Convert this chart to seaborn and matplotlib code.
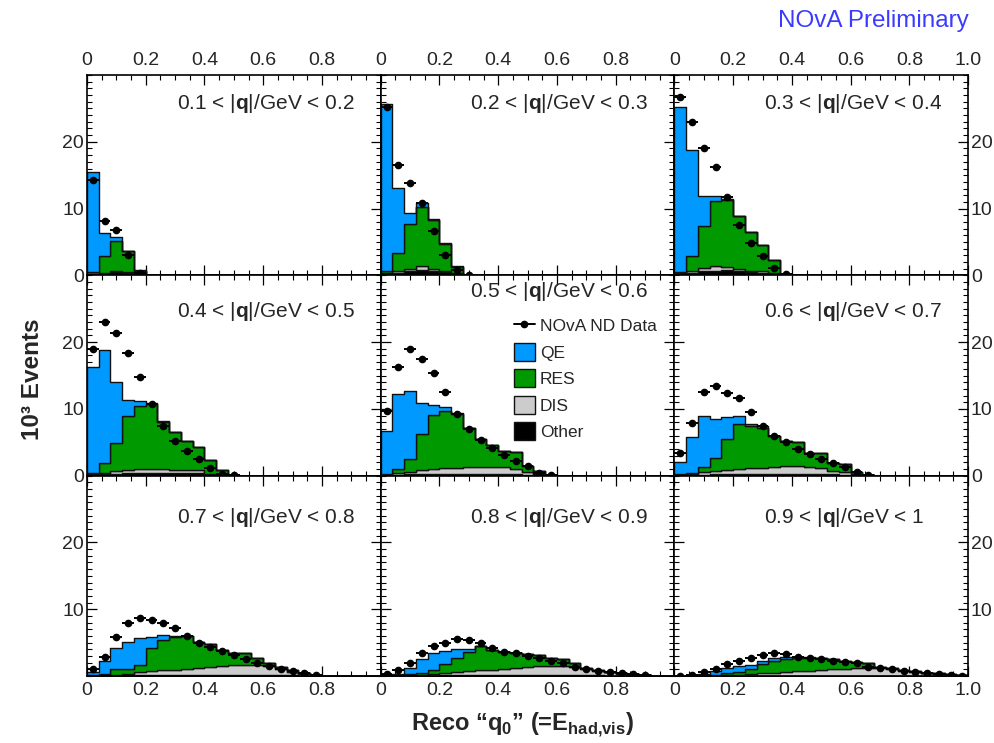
import numpy as np
import pandas as pd
import matplotlib
matplotlib.use("Agg")
import matplotlib.pyplot as plt
from matplotlib.lines import Line2D
from matplotlib.patches import Patch
from matplotlib.ticker import MultipleLocator, FixedLocator, FuncFormatter
import seaborn as sns

sns.set_theme(style="ticks")
plt.rcParams["font.family"] = ["Liberation Sans", "DejaVu Sans"]
plt.rcParams["mathtext.fontset"] = "custom"
plt.rcParams["mathtext.rm"] = "Liberation Sans"
plt.rcParams["mathtext.bf"] = "Liberation Sans:bold"

#%% Data (10^3 events per 0.04 bin of reco q0, one list per |q| slice)

q_lo = ["0.1", "0.2", "0.3", "0.4", "0.5", "0.6", "0.7", "0.8", "0.9"]
q_hi = ["0.2", "0.3", "0.4", "0.5", "0.6", "0.7", "0.8", "0.9", "1"]

other = [
    [0.15, 0.25, 0.55, 0.4, 0.2],
    [0.2, 0.35, 0.6, 0.75, 0.6, 0.5, 0.2],
    [0.2, 0.3, 0.6, 0.7, 0.75, 0.6, 0.5, 0.35, 0.2, 0.05],
    [0.2, 0.2, 0.3, 0.4, 0.4, 0.45, 0.45, 0.4, 0.4, 0.4, 0.15, 0.1],
    [0.1, 0.15, 0.2, 0.25, 0.25, 0.3, 0.3, 0.3, 0.3, 0.3, 0.3, 0.25, 0.15, 0.1],
    [0.05, 0.1, 0.15, 0.2, 0.25, 0.25, 0.3, 0.3, 0.3, 0.3, 0.3, 0.3, 0.25, 0.2, 0.15, 0.1, 0.05],
    [0.02, 0.05, 0.05, 0.1, 0.1, 0.15, 0.15, 0.2, 0.2, 0.2, 0.2, 0.2, 0.2, 0.2, 0.2, 0.15, 0.1, 0.1, 0.05, 0.02],
    [0.0, 0.02, 0.02, 0.05, 0.05, 0.1, 0.1, 0.1, 0.1, 0.15, 0.15, 0.15, 0.15, 0.15, 0.15, 0.15, 0.15, 0.1, 0.1, 0.05, 0.05, 0.02, 0.02],
    [0.0, 0.0, 0.01, 0.02, 0.02, 0.03, 0.05, 0.05, 0.05, 0.05, 0.05, 0.05, 0.05, 0.05, 0.05, 0.05, 0.05, 0.05, 0.05, 0.03, 0.03, 0.02, 0.02, 0.01, 0.01],
]

dis = [
    [0.1, 0.1, 0.15, 0.1, 0.05],
    [0.15, 0.25, 0.4, 0.65, 0.3, 0.1, 0.1],
    [0.15, 0.35, 0.55, 0.65, 0.5, 0.3, 0.2, 0.25, 0.1, 0.05],
    [0.1, 0.2, 0.45, 0.5, 0.6, 0.6, 0.55, 0.5, 0.45, 0.4, 0.15, 0.05],
    [0.05, 0.2, 0.35, 0.6, 0.8, 0.85, 0.9, 0.95, 1.0, 1.0, 0.95, 0.75, 0.35, 0.2],
    [0.05, 0.1, 0.35, 0.55, 0.65, 0.75, 0.8, 0.85, 1.0, 1.1, 1.2, 0.95, 0.85, 0.55, 0.35, 0.15, 0.05],
    [0.03, 0.05, 0.15, 0.25, 0.45, 0.6, 0.7, 0.75, 0.85, 1.05, 1.2, 1.3, 1.4, 1.45, 1.4, 1.3, 0.9, 0.5, 0.25, 0.08],
    [0.02, 0.03, 0.08, 0.15, 0.3, 0.4, 0.5, 0.65, 0.75, 0.8, 0.9, 1.0, 1.15, 1.3, 1.35, 1.35, 1.2, 0.95, 0.7, 0.5, 0.3, 0.18, 0.08],
    [0.0, 0.01, 0.04, 0.08, 0.13, 0.17, 0.25, 0.35, 0.45, 0.55, 0.65, 0.75, 0.85, 0.95, 1.05, 1.1, 1.2, 1.2, 1.0, 0.77, 0.62, 0.43, 0.33, 0.19, 0.11],
]

res = [
    [0.25, 2.55, 4.5, 3.1, 0.45],
    [0.25, 2.8, 6.7, 8.8, 7.4, 4.15, 1.0],
    [0.2, 2.25, 6.25, 9.75, 10.05, 7.95, 5.8, 3.9, 1.95, 0.08],
    [0.1, 1.5, 4.15, 8.0, 9.5, 9.75, 7.1, 5.6, 4.3, 3.5, 2.1, 0.65],
    [0.05, 0.6, 2.0, 5.35, 8.0, 8.55, 8.1, 5.85, 4.2, 3.3, 2.45, 2.6, 1.0, 0.45],
    [0.1, 0.25, 0.85, 1.95, 4.55, 6.7, 6.3, 6.05, 4.7, 3.85, 3.6, 2.1, 2.25, 1.15, 1.25, 0.35, 0.05],
    [0.1, 0.2, 0.8, 0.7, 1.15, 3.45, 4.55, 4.85, 5.0, 3.8, 3.4, 2.4, 1.8, 1.75, 1.15, 0.55, 0.4, 0.3, 0.1, 0.05],
    [0.03, 0.05, 0.2, 0.25, 0.55, 1.25, 2.05, 2.9, 3.65, 2.95, 2.6, 2.25, 1.95, 1.7, 1.15, 1.05, 0.65, 0.2, 0.1, 0.1, 0.05, 0.05, 0.0],
    [0.01, 0.01, 0.05, 0.1, 0.35, 0.4, 0.75, 1.35, 1.8, 1.9, 2.05, 1.95, 1.75, 1.5, 1.2, 1.0, 0.75, 0.15, 0.1, 0.1, 0.1, 0.05, 0.05, 0.05, 0.03],
]

qe = [
    [15.0, 3.4, 0.6, 0.1, 0.05],
    [25.1, 9.7, 1.7, 0.7, 0.1, 0.05, 0.05],
    [24.65, 15.9, 4.5, 0.8, 0.2, 0.05, 0.0, 0.0, 0.05, 0.02],
    [15.85, 16.9, 9.1, 2.4, 0.65, 0.1, 0.05],
    [6.5, 11.35, 10.15, 4.75, 1.5, 0.6, 0.1, 0.05],
    [1.8, 5.4, 7.6, 5.85, 3.3, 1.25, 0.35, 0.2],
    [0.4, 2.0, 3.15, 4.1, 3.95, 1.7, 0.75, 0.25],
    [0.1, 0.2, 0.95, 2.05, 2.6, 2.0, 1.35, 0.35],
    [0.01, 0.03, 0.2, 0.55, 0.75, 0.9, 0.6, 0.55, 0.35, 0.3, 0.15, 0.05],
]

nd_data = [
    [14.3, 8.2, 6.8, 3.0, 0.35],
    [25.2, 16.6, 13.8, 10.8, 6.7, 3.0, 0.75, 0.1],
    [26.7, 23.0, 19.0, 16.2, 11.7, 7.6, 4.9, 2.9, 1.15, 0.2],
    [18.9, 23.0, 21.3, 18.3, 14.8, 10.8, 7.4, 5.15, 3.65, 2.5, 1.15, 0.25, 0.05],
    [9.65, 16.2, 18.95, 17.45, 15.35, 12.55, 9.3, 7.0, 5.3, 4.15, 3.05, 2.25, 1.4, 0.4, 0.05],
    [3.45, 7.9, 12.6, 13.4, 12.4, 11.6, 9.55, 7.45, 5.95, 5.05, 4.05, 3.2, 2.45, 1.85, 1.35, 0.6, 0.1],
    [1.0, 2.8, 5.8, 8.0, 8.65, 8.4, 7.9, 7.15, 6.05, 5.0, 4.3, 3.75, 3.15, 2.55, 2.0, 1.55, 1.05, 0.75, 0.4, 0.15],
    [0.3, 0.9, 2.0, 3.5, 4.55, 5.0, 5.5, 5.4, 4.9, 4.15, 3.65, 3.4, 3.0, 2.65, 2.25, 1.9, 1.4, 1.05, 0.8, 0.55, 0.4, 0.25, 0.1],
    [0.05, 0.15, 0.55, 1.0, 1.75, 2.25, 2.75, 3.15, 3.4, 3.25, 2.9, 2.75, 2.55, 2.3, 2.05, 1.9, 1.4, 1.25, 1.0, 0.75, 0.6, 0.4, 0.3, 0.15, 0.05],
]

#%% Style

bin_w = 0.04
centers = np.arange(25) * bin_w + bin_w / 2
# seaborn stacks the last hue level at the bottom -> Other, DIS, RES, QE from bottom up
comps = ["QE", "RES", "DIS", "Other"]
colours = {"QE": "#0099ff", "RES": "#009a00", "DIS": "#cccccc", "Other": "#000000"}

# label height of each panel (panel 5 carries the legend, so its label sits higher)
label_y = [0.86, 0.86, 0.86, 0.82, 0.92, 0.82, 0.79, 0.79, 0.79]

def xfmt(v, pos):
    if abs(v) < 1e-9:
        return "0"
    return "%.1f" % v

def xfmt_no_end(v, pos):
    if v > 0.99:
        return ""
    return xfmt(v, pos)

#%% Plot

fig, axes = plt.subplots(3, 3, figsize = (9.94, 7.43), dpi = 100)
fig.subplots_adjust(left = 0.0875, right = 0.974, top = 0.899, bottom = 0.0902,
                    wspace = 0, hspace = 0)

for i, ax in enumerate(axes.flat):
    row, col = divmod(i, 3)

    rows = []
    for name, vals in zip(["Other", "DIS", "RES", "QE"], [other[i], dis[i], res[i], qe[i]]):
        for c, v in zip(centers, vals):
            rows.append((c, v, name))
    df = pd.DataFrame(rows, columns = ["x", "w", "comp"])

    sns.histplot(data = df, x = "x", weights = "w", hue = "comp", hue_order = comps,
                 binwidth = bin_w, binrange = (0, 1), multiple = "stack", element = "step",
                 palette = colours, alpha = 1, edgecolor = "#111111",
                 linewidth = 1.0, legend = False, ax = ax)

    n = len(nd_data[i])
    ax.errorbar(centers[:n], nd_data[i], xerr = bin_w / 2, fmt = "o", color = "black",
                ms = 4.5, elinewidth = 1.4, capsize = 0, zorder = 5)

    ax.set_xlim(0, 1)
    ax.set_ylim(0, 30)
    ax.set_xlabel("")
    ax.set_ylabel("")

    ax.xaxis.set_major_locator(MultipleLocator(0.2))
    ax.xaxis.set_minor_locator(MultipleLocator(0.05))
    ax.xaxis.set_major_formatter(FuncFormatter(xfmt if col == 2 else xfmt_no_end))
    ax.yaxis.set_major_locator(FixedLocator([0, 10, 20] if row < 2 else [10, 20]))
    ax.yaxis.set_minor_locator(MultipleLocator(1))

    ax.tick_params(which = "both", direction = "in", top = True, right = True,
                   labelsize = 14, color = "black")
    ax.tick_params(axis = "x", pad = 4)
    ax.tick_params(axis = "y", pad = 2)
    ax.tick_params(which = "major", length = 7, width = 0.9)
    ax.tick_params(which = "minor", length = 3.5, width = 0.8)
    ax.tick_params(labeltop = (row == 0), labelbottom = (row == 2),
                   labelleft = (col == 0), labelright = (col == 2))

    for s in ax.spines.values():
        s.set_linewidth(1.2)
        s.set_color("black")

    ax.text(0.305, label_y[i], "%s < |$\\mathbf{q}$|/GeV < %s" % (q_lo[i], q_hi[i]),
            transform = ax.transAxes, fontsize = 15, ha = "left", va = "center")

# legend in the centre panel
handles = [Line2D([], [], color = "black", marker = "o", ms = 4.5, lw = 1.4),
           Patch(facecolor = colours["QE"], edgecolor = "#111111"),
           Patch(facecolor = colours["RES"], edgecolor = "#111111"),
           Patch(facecolor = colours["DIS"], edgecolor = "#111111"),
           Patch(facecolor = colours["Other"], edgecolor = "#111111")]
axes[1, 1].legend(handles, ["NOvA ND Data", "QE", "RES", "DIS", "Other"],
                  loc = "upper left", bbox_to_anchor = (0.43, 0.83), frameon = False,
                  fontsize = 12.5, handlelength = 1.2, handleheight = 1.2,
                  labelspacing = 0.5, handletextpad = 0.3, borderaxespad = 0)

fig.text(0.975, 0.972, "NOvA Preliminary", color = "#3b3bff", fontsize = 17.5,
         ha = "right", va = "center")
fig.text(0.033, 0.49, "10³ Events", rotation = 90, fontsize = 17.5, fontweight = "bold",
         ha = "center", va = "center")
fig.text(0.526, 0.025, "Reco “q$_{\\mathbf{0}}$” (=E$_{\\mathbf{had{,}vis}}$)",
         fontsize = 17, fontweight = "bold", ha = "center", va = "center")

plt.savefig("out.png", dpi = 100)
